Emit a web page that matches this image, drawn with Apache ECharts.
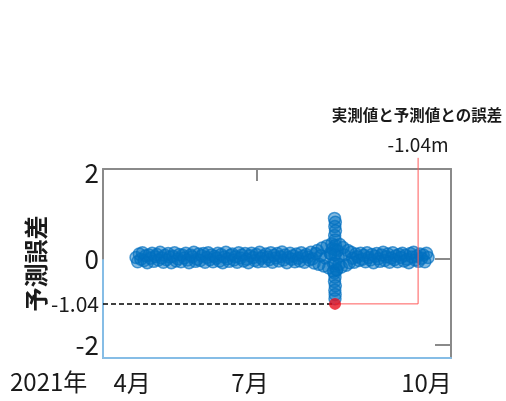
<!DOCTYPE html>
<html><head><meta charset="utf-8">
<script src="https://cdn.jsdelivr.net/npm/echarts@6/dist/echarts.min.js"></script>
<style>html,body{margin:0;padding:0;background:#fff}#c{width:506px;height:401px}</style>
</head><body><div id="c"></div>
<script>
// Daily prediction error (m), day 0 = 2021-04-01 ... day 182 = 2021-09-30
const dailyErrors = [
  0.04,-0.06,0.12,0.00,0.15,-0.03,0.08,-0.08,0.10,0.02,
  0.14,-0.05,0.06,0.11,-0.02,0.16,0.03,-0.07,0.09,-0.01,
  0.13,0.05,-0.08,0.07,0.15,-0.04,0.01,0.11,-0.06,0.09,
  0.03,0.14,-0.02,-0.08,0.10,0.06,0.16,-0.05,0.00,0.12,
  -0.03,0.08,0.13,-0.07,0.04,0.15,-0.01,0.10,-0.06,0.07,
  0.02,0.14,-0.04,0.11,-0.08,0.05,0.16,0.01,-0.05,0.09,
  0.12,-0.02,0.06,-0.07,0.15,0.03,0.10,-0.04,0.13,0.00,
  -0.08,0.08,0.14,0.04,-0.03,0.11,-0.06,0.16,0.02,0.07,
  -0.05,0.12,0.05,-0.01,0.15,-0.07,0.09,0.03,0.13,-0.04,
  0.06,0.17,-0.02,0.10,-0.08,0.04,0.14,0.00,0.08,-0.06,
  0.12,0.02,-0.04,0.15,0.07,-0.07,0.11,0.05,-0.02,0.16,
  0.01,-0.09,0.13,0.20,-0.12,0.08,0.26,-0.16,0.03,0.31,
  -0.20,0.14,0.36,-0.10,0.22,-0.24,0.05,0.34,-0.18,0.27,
  0.10,-0.14,0.20,-0.08,0.16,0.02,-0.07,0.12,0.06,-0.03,
  0.14,0.00,0.09,-0.06,0.15,0.04,-0.02,0.11,-0.08,0.07,
  0.13,0.01,-0.05,0.10,0.16,-0.03,0.06,0.12,-0.07,0.03,
  0.15,-0.01,0.08,-0.06,0.11,0.04,0.14,-0.04,0.09,0.00,
  -0.08,0.13,0.05,0.16,-0.02,0.07,-0.05,0.12,0.02,0.10,
  -0.06,0.14,0.04
];
// extra readings around the storm surge (early August)
const spikeDays   = [123.7,124.2,123.9,124.3,123.8,124.1,124.0,123.7,124.2,123.9,124.1,124.0,
                     122.5,125.5,123.0,125.0,124.0,124.0,124.3,123.7,121.5,126.5];
const spikeErrors = [0.95,0.86,0.76,0.66,0.55,0.45,-0.42,-0.52,-0.62,-0.72,-0.82,-0.92,
                     0.25,0.20,-0.28,-0.25,0.10,-0.10,0.32,-0.32,0.12,-0.12];
const minErrorDay = 124;
const minError = -1.04;
const calloutDays = [124, 175.8, 175.8];
const calloutValues = [-1.04, -1.04, 2.36];
const xTickValues = [-2.5, 71, 181];
const xTickLabels = ['4月', '7月', '10月'];
const yTickValues = [2, 0, -1.04, -2];
const yearLabel = '2021年';
const yAxisName = '予測誤差';
const noteLines = ['実測値と予測値との誤差', '-1.04m'];

const xMin = -20.6, xMax = 196.3, yMin = -2.3, yMax = 2.1;
const NARROW = '"Liberation Sans Narrow","Noto Sans CJK JP",sans-serif';
const CJK = '"Noto Sans CJK JP",sans-serif';

const bandData = dailyErrors.map((v, i) => [i, v]).concat(spikeDays.map((d, i) => [d, spikeErrors[i]]));

const chart = echarts.init(document.getElementById('c'));
chart.setOption({
  animation: false,
  grid: { left: 103, right: 55, top: 169, bottom: 43 },
  xAxis: [{
    type: 'value', min: xMin, max: xMax, position: 'bottom',
    axisLine: { show: true, onZero: false, lineStyle: { color: '#86BDE6', width: 2 } },
    axisTick: { show: false }, splitLine: { show: false },
    axisLabel: {
      customValues: xTickValues,
      formatter: v => xTickLabels[xTickValues.indexOf(v)] || '',
      fontFamily: NARROW, fontSize: 24, color: '#1a1a1a', margin: 13
    }
  }, {
    type: 'value', min: xMin, max: xMax, position: 'top',
    axisLine: { show: true, onZero: false, lineStyle: { color: '#8a8a8a', width: 2 } },
    axisTick: { show: true, inside: true, length: 12, customValues: [75.4], lineStyle: { color: '#8a8a8a', width: 2 } },
    axisLabel: { show: false }, splitLine: { show: false }
  }],
  yAxis: [{
    type: 'value', min: yMin, max: yMax,
    name: yAxisName, nameLocation: 'middle', nameRotate: 90, nameGap: 55, nameMoveOverlap: false,
    nameTextStyle: { fontFamily: CJK, fontSize: 24, fontWeight: 'bold', color: '#1a1a1a' },
    axisLine: { show: true, onZero: false, lineStyle: { color: '#8a8a8a', width: 2 } },
    axisTick: { show: false }, splitLine: { show: false },
    axisLabel: {
      customValues: yTickValues,
      formatter: v => (Math.abs(v - minError) < 1e-6 ? '{s|-1.04}' : String(v)),
      fontFamily: NARROW, fontSize: 26, color: '#1a1a1a', margin: 4,
      rich: { s: { fontFamily: NARROW, fontSize: 21, color: '#1a1a1a' } }
    }
  }, {
    type: 'value', min: yMin, max: yMax, position: 'right',
    axisLine: { show: true, onZero: false, lineStyle: { color: '#8a8a8a', width: 2 } },
    axisTick: { show: true, inside: true, length: 16, customValues: [0, -2], lineStyle: { color: '#8a8a8a', width: 2 } },
    axisLabel: { show: false }, splitLine: { show: false }
  }],
  series: [{
    type: 'line', data: [[xMin, 0], [xMin, yMin]], symbol: 'none', silent: true,
    lineStyle: { color: '#86BDE6', width: 2 }, z: 3
  }, {
    type: 'scatter', data: bandData, symbol: 'circle', symbolSize: 12,
    itemStyle: { color: 'rgba(0,112,192,0.6)', borderColor: 'rgba(0,112,192,0.85)', borderWidth: 1.5 },
    z: 4
  }, {
    type: 'line', data: calloutDays.map((d, i) => [d, calloutValues[i]]), symbol: 'none', clip: false,
    lineStyle: { color: '#FF5A5A', width: 1 }, z: 5
  }, {
    type: 'scatter', data: [[minErrorDay, minError]], symbolSize: 12,
    itemStyle: { color: '#E8101E' }, z: 6,
    markLine: {
      silent: true, symbol: 'none', label: { show: false },
      lineStyle: { color: '#000', type: [5, 3], width: 1.5 },
      data: [[{ coord: [xMin, minError] }, { coord: [minErrorDay, minError] }]]
    }
  }],
  graphic: [
    { type: 'text', left: 10, top: 370, style: { text: yearLabel, fontFamily: NARROW, fontSize: 24, fill: '#1a1a1a' } },
    { type: 'text', x: 417, y: 115, style: { text: noteLines[0], fontFamily: CJK, fontSize: 15.5, fontWeight: 'bold', fill: '#1a1a1a', align: 'center', verticalAlign: 'middle' } },
    { type: 'text', x: 418, y: 145, style: { text: noteLines[1], fontFamily: NARROW, fontSize: 19, fill: '#1a1a1a', align: 'center', verticalAlign: 'middle' } }
  ]
});
</script></body></html>
